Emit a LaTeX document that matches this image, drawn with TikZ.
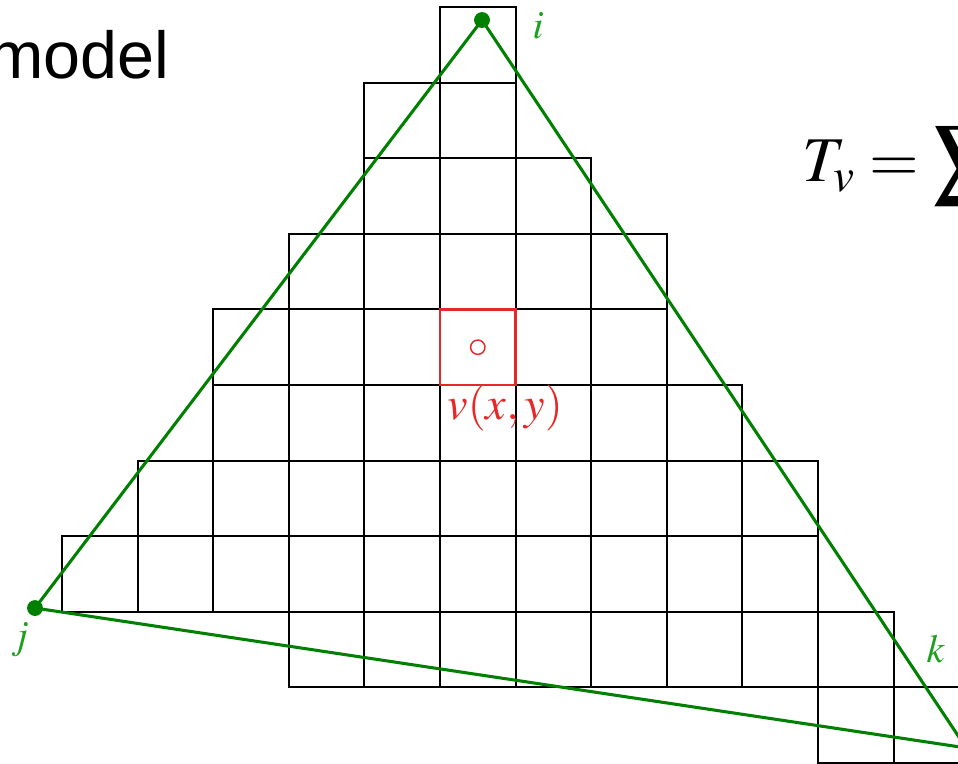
\documentclass[tikz,border=0pt]{standalone}
\usepackage{mathptmx}
\usepackage[no-math]{fontspec}
\newfontfamily\slidefont{Liberation Sans}
\definecolor{triGreen}{RGB}{0,128,0}
\definecolor{lblGreen}{RGB}{30,160,30}
\definecolor{pixRed}{RGB}{230,40,40}
\begin{document}
\begin{tikzpicture}
        % Style definitions
        \tikzset{
            cell/.style={black, line width=0.75pt},
            pixcell/.style={pixRed, line width=0.85pt},
            edge/.style={triGreen, line width=1.15pt},
            vertex/.style={circle, fill=triGreen, inner sep=0pt, minimum size=0.21cm},
            vlabel/.style={text=lblGreen, inner sep=0pt, font=\fontsize{15}{17}\selectfont}
        }
        \clip (-0.82,0.093) rectangle (11.852,-10);

        % ==========================================
        % PIXEL GRID (row / first cell / last cell)
        % ==========================================
        \foreach \r/\a/\b in {0/5/5, 1/4/5, 2/4/6, 3/3/7, 4/2/7, 5/2/8, 6/1/9, 7/0/9, 8/3/10, 9/10/11}
            \foreach \c in {\a,...,\b}
                \draw[cell] (\c,-\r) rectangle ++(1,-1);

        % Pixel v(x,y)
        \draw[pixcell] (5,-4) rectangle (6,-5);
        \node[circle, draw=pixRed, line width=0.55pt, inner sep=0pt, minimum size=0.19cm] (pix) at (5.5,-4.5) {};
        \node[text=pixRed, inner sep=0pt, font=\fontsize{17.4}{19}\selectfont] (pixlabel) at (5.86,-5.3) {$v(x,y)$};

        % ==========================================
        % TRIANGLE i, j, k
        % ==========================================
        \coordinate (i) at (5.556,-0.172);
        \coordinate (j) at (-0.357,-7.95);
        \coordinate (k) at (11.96,-9.80);
        \draw[edge] (i) -- (j) -- (k) -- cycle;
        \node[vertex] (dot-i) at (i) {};
        \node[vertex] (dot-j) at (j) {};
        \node[vertex] (dot-k) at (k) {};
        \node[vlabel] (lbl-i) at (6.30,-0.25) {$i$};
        \node[vlabel] (lbl-j) at (-0.556,-8.37) {$j$};
        \node[vlabel] (lbl-k) at (11.56,-8.49) {$k$};

        % Slide text
        \node[anchor=base east, inner sep=0pt, font=\slidefont\fontsize{25}{30}\selectfont] (title) at (1.43,-0.94) {model};
        \node[anchor=base west, inner sep=0pt, font=\fontsize{24}{28}\selectfont] (formula) at (9.79,-2.31) {$T_v = \displaystyle\sum$};
    \end{tikzpicture}
\end{document}
